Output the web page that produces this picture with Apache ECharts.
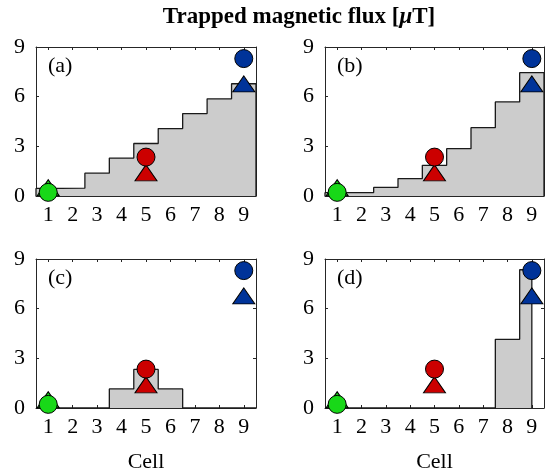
<!DOCTYPE html>
<html>
<head>
<meta charset="utf-8">
<script src="https://cdn.jsdelivr.net/npm/echarts@6/dist/echarts.min.js"></script>
<style>
  html, body { margin: 0; padding: 0; background: #fff; }
  #chart { width: 546px; height: 472px; }
</style>
</head>
<body>
<div id="chart"></div>
<script>
// Cell indices along the chain
const cells = [1, 2, 3, 4, 5, 6, 7, 8, 9];
const xTicks = [1, 2, 3, 4, 5, 6, 7, 8, 9];
const yTicks = [0, 3, 6, 9];

// Simulated trapped flux per cell [µT], one array per case
const fluxA = [0.46, 0.47, 1.38, 2.29, 3.17, 4.07, 4.98, 5.87, 6.78];
const fluxB = [0.20, 0.21, 0.52, 1.05, 1.85, 2.86, 4.13, 5.68, 7.45];
const fluxC = [0, 0, 0, 1.15, 2.33, 1.15, 0, 0, 0];
const fluxD = [0, 0, 0, 0, 0, 0, 0, 4.15, 8.35];
// Right end of each staircase (cell coordinate)
const stairEnd = [9.5, 9.5, 9.5, 9.0];

// Measured values at the probed cells (same in every case)
const probeCells = [1, 5, 9];
const circleValues = [0.22, 2.35, 8.30];
const triangleValues = [0.50, 1.40, 6.77];
const probeColors = ['#18d818', '#cc0000', '#003399'];

const panelLabels = ['(a)', '(b)', '(c)', '(d)'];
const fluxSets = [fluxA, fluxB, fluxC, fluxD];

const FONT = '"Liberation Serif", "DejaVu Serif", serif';
const AXIS_COLOR = '#262626';

const grids = [
  { left: 36, top: 47, width: 220, height: 149 },
  { left: 325, top: 47, width: 219, height: 149 },
  { left: 36, top: 259, width: 220, height: 149 },
  { left: 325, top: 259, width: 219, height: 149 }
];

// Turn per-cell values into a closed staircase outline (cell i spans i-0.5 .. i+0.5)
function stairPoints(values, endX) {
  const pts = [[cells[0] - 0.5, 0]];
  values.forEach((v, i) => {
    const x0 = cells[i] - 0.5;
    const x1 = Math.min(cells[i] + 0.5, endX);
    if (x0 >= endX) return;
    pts.push([x0, v]);
    pts.push([x1, v]);
  });
  pts.push([Math.min(cells[cells.length - 1] + 0.5, endX), 0]);
  return pts;
}

const xAxes = [], yAxes = [], series = [], graphics = [];

grids.forEach((g, k) => {
  const bottomLabels = k >= 2;
  // bottom x axis
  xAxes.push({
    type: 'value', gridIndex: k, position: 'bottom', min: 0.5, max: 9.5,
    axisLine: { show: true, onZero: false, lineStyle: { color: AXIS_COLOR, width: 1 } },
    axisTick: { show: true, inside: true, length: 3, customValues: xTicks, lineStyle: { color: AXIS_COLOR } },
    axisLabel: { show: true, customValues: xTicks, margin: 8, color: '#000', fontFamily: FONT, fontSize: 22 },
    splitLine: { show: false },
    name: bottomLabels ? 'Cell' : '',
    nameLocation: 'middle', nameGap: 43,
    nameTextStyle: { color: '#000', fontFamily: FONT, fontSize: 22 }
  });
  // top x axis (box edge)
  xAxes.push({
    type: 'value', gridIndex: k, position: 'top', min: 0.5, max: 9.5,
    axisLine: { show: true, onZero: false, lineStyle: { color: AXIS_COLOR, width: 1 } },
    axisTick: { show: true, inside: true, length: 3, customValues: xTicks, lineStyle: { color: AXIS_COLOR } },
    axisLabel: { show: false },
    splitLine: { show: false }
  });
  // left y axis
  yAxes.push({
    type: 'value', gridIndex: k, position: 'left', min: 0, max: 9, interval: 3,
    axisLine: { show: true, onZero: false, lineStyle: { color: AXIS_COLOR, width: 1 } },
    axisTick: { show: true, inside: true, length: 3, lineStyle: { color: AXIS_COLOR } },
    axisLabel: { show: true, margin: 11, color: '#000', fontFamily: FONT, fontSize: 22 },
    splitLine: { show: false }
  });
  // right y axis (box edge)
  yAxes.push({
    type: 'value', gridIndex: k, position: 'right', min: 0, max: 9, interval: 3,
    axisLine: { show: true, onZero: false, lineStyle: { color: AXIS_COLOR, width: 1 } },
    axisTick: { show: true, inside: true, length: 3, lineStyle: { color: AXIS_COLOR } },
    axisLabel: { show: false },
    splitLine: { show: false }
  });

  const xi = 2 * k, yi = 2 * k;

  // staircase of trapped flux
  series.push({
    type: 'line', xAxisIndex: xi, yAxisIndex: yi,
    data: stairPoints(fluxSets[k], stairEnd[k]),
    symbol: 'none', silent: true, animation: false, clip: true,
    lineStyle: { color: '#1a1a1a', width: 1.3 },
    areaStyle: { color: '#cccccc', opacity: 1 },
    z: 2
  });

  // measured triangles, then circles on top
  series.push({
    type: 'scatter', xAxisIndex: xi, yAxisIndex: yi, animation: false,
    symbol: 'triangle', symbolSize: [22, 16],
    data: probeCells.map((c, i) => ({
      value: [c, triangleValues[i]],
      itemStyle: { color: probeColors[i], opacity: 1, borderColor: '#000', borderWidth: 1 }
    })),
    z: 3
  });
  series.push({
    type: 'scatter', xAxisIndex: xi, yAxisIndex: yi, animation: false,
    symbol: 'circle', symbolSize: 18,
    data: probeCells.map((c, i) => ({
      value: [c, circleValues[i]],
      itemStyle: { color: probeColors[i], opacity: 1, borderColor: '#000', borderWidth: 1 }
    })),
    z: 4
  });

  graphics.push({
    type: 'text', left: g.left + 12, top: g.top + 8, z: 10,
    style: { text: panelLabels[k], fill: '#000', font: '22px ' + FONT }
  });
});

const chart = echarts.init(document.getElementById('chart'), null, { renderer: 'canvas' });
chart.setOption({
  backgroundColor: '#ffffff',
  animation: false,
  title: {
    text: '{b|Trapped magnetic flux [}{i|μ}{b|T]}',
    left: 294, top: 1, textAlign: 'center',
    textStyle: {
      rich: {
        b: { fontFamily: FONT, fontWeight: 'bold', fontSize: 23, color: '#000' },
        i: { fontFamily: FONT, fontStyle: 'italic', fontWeight: 'bold', fontSize: 23, color: '#000' }
      }
    }
  },
  grid: grids.map(g => Object.assign({ containLabel: false, outerBoundsMode: 'none' }, g)),
  xAxis: xAxes,
  yAxis: yAxes,
  series: series,
  graphic: graphics
});
</script>
</body>
</html>
